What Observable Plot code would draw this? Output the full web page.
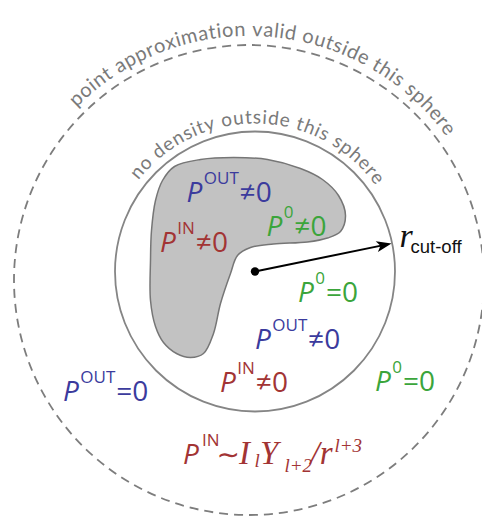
<!DOCTYPE html>
<html><head><meta charset="utf-8">
<script src="https://cdn.jsdelivr.net/npm/d3@7"></script>
<script src="https://cdn.jsdelivr.net/npm/@observablehq/plot@0.6"></script>
<style>html,body{margin:0;padding:0;background:#fff} svg{display:block}</style>
</head><body><div id="chart"></div>
<script>
// ---------- diagram data ----------
const circleCX = [254.5, 248.5];
const circleCY = [271, 279.5];
const circleR = [140, 235];
const circleDashed = [false, true];

// outline of the density region (gray blob)
const blobX = [150, 151, 155, 162, 174, 200, 233, 267, 300, 322, 338, 345, 340, 327, 307, 273, 250, 237, 230, 220, 213, 203, 190, 176, 163, 155, 150];
const blobY = [260, 230, 200, 180, 166, 159, 157, 159, 168, 179, 195, 215, 231, 237.5, 241.5, 243.5, 247, 255, 273, 303, 333, 353, 357, 353, 342, 326, 300];

// radius arrow (center -> sphere)
const arrowFrom = [254.5, 271];
const arrowTo = [391, 243];

// curved labels
const arcLabels = ["point approximation valid outside this sphere", "no density outside this sphere"];
const arcCX = [248.5, 254.5];
const arcCY = [279.5, 271];
const arcRadius = [244, 148];
const arcStartDeg = [-135, -142];
const arcEndDeg = [-36, -35.5];
const arcFontSize = [20, 19];

// P labels
const symSup = ["OUT", "IN", "0", "0", "OUT", "IN", "OUT", "0"];
const symRel = ["≠0", "≠0", "≠0", "=0", "≠0", "≠0", "=0", "=0"];
const symKind = ["out", "in", "zero", "zero", "out", "in", "out", "zero"];
const symX = [186, 159.5, 266, 297.5, 254.5, 219.5, 62.5, 374.5];
const symY = [201.7, 251.7, 235, 301.7, 348.3, 391.7, 400, 390];

// formula P^IN ~ I_l Y_{l+2} / r^{l+3}
const formulaText = ["P", "IN", "∼", "I", "l", "Y", "l+2", "/r", "l+3"];
const formulaX = [182.5, 201.5, 216, 238.5, 254, 259.5, 284, 310, 334];
const formulaY = [463, 445, 463, 463, 466, 463, 471.5, 463, 451];
const formulaStyle = ["sansP", "sup", "tilde", "serif", "sub", "serif", "sub", "serif", "sub"];

// r_cut-off
const rLabelText = ["r", "cut-off"];
const rLabelX = [399, 410];
const rLabelY = [246.7, 252.7];

// ---------- styles ----------
const colors = {out: "#3b3b9d", in: "#a23434", zero: "#3ba53b"};
const gray = "#7a7a7a";
const sansFamily = "'Open Sans', 'Noto Sans', sans-serif";
const arcFamily = "Lato, 'Open Sans', sans-serif";
const serifFamily = "'Liberation Serif', 'DejaVu Serif', serif";

const ctx = document.createElement("canvas").getContext("2d");
function measure(text, font) { ctx.font = font; return ctx.measureText(text).width; }

// circles
const circles = circleCX.map((x, i) => ({x, y: circleCY[i], r: circleR[i], dashed: circleDashed[i]}));
const blob = blobX.map((x, i) => ({x, y: blobY[i]}));

// arrow geometry (derived from the arrow endpoints)
const dx = arrowTo[0] - arrowFrom[0], dy = arrowTo[1] - arrowFrom[1];
const len = Math.hypot(dx, dy), ux = dx / len, uy = dy / len, nx = -uy, ny = ux;
const headL = 15, headW = 5.5;
const shaft = [{x1: arrowFrom[0], y1: arrowFrom[1], x2: arrowTo[0] - ux * headL * 0.7, y2: arrowTo[1] - uy * headL * 0.7}];
const head = [
  {x: arrowTo[0], y: arrowTo[1]},
  {x: arrowTo[0] - ux * headL + nx * headW, y: arrowTo[1] - uy * headL + ny * headW},
  {x: arrowTo[0] - ux * headL * 0.75, y: arrowTo[1] - uy * headL * 0.75},
  {x: arrowTo[0] - ux * headL - nx * headW, y: arrowTo[1] - uy * headL - ny * headW}
];

// per-character positions along arcs
const arcChars = [];
arcLabels.forEach((s, k) => {
  const font = `${arcFontSize[k]}px ${arcFamily}`;
  const chars = Array.from(s);
  const ws = chars.map(c => measure(c, font));
  const total = d3.sum(ws);
  const r = arcRadius[k];
  const a0 = arcStartDeg[k] * Math.PI / 180, a1 = arcEndDeg[k] * Math.PI / 180;
  const extra = (r * (a1 - a0) - total) / (chars.length - 1);
  let s0 = 0;
  chars.forEach((c, i) => {
    const a = a0 + (s0 + ws[i] / 2) / r;
    arcChars.push({x: arcCX[k] + r * Math.cos(a), y: arcCY[k] + r * Math.sin(a), rotate: a * 180 / Math.PI + 90, ch: c, size: arcFontSize[k]});
    s0 += ws[i] + extra;
  });
});

// P label segments
const segP = [], segSup = [], segRel = [];
symSup.forEach((sup, i) => {
  const color = colors[symKind[i]];
  const x0 = symX[i], y0 = symY[i];
  const wP = measure("P", `italic 28px ${sansFamily}`);
  const xs = x0 + wP + 1.5;
  const wS = measure(sup, `17px ${sansFamily}`);
  segP.push({x: x0, y: y0, t: "P", color});
  segSup.push({x: xs, y: y0 - 18, t: sup, color});
  segRel.push({x: xs + wS + 1, y: y0, t: symRel[i], color});
});

const formula = formulaText.map((t, i) => ({t, x: formulaX[i], y: formulaY[i], s: formulaStyle[i]}));
const fOf = s => formula.filter(d => d.s === s);

const textBase = {x: "x", y: "y", text: "t", textAnchor: "start", lineAnchor: "bottom"};

const plot = Plot.plot({
  width: 482, height: 519, margin: 0,
  x: {domain: [0, 482], range: [0, 482], axis: null},
  y: {domain: [0, 519], range: [0, 519], axis: null},
  r: {type: "identity"},
  color: {type: "identity"},
  style: {background: "#fff", overflow: "visible"},
  marks: [
    Plot.dot(circles.filter(d => d.dashed), {x: "x", y: "y", r: "r", fill: "none", stroke: "#7d7d7d", strokeWidth: 1.8, strokeDasharray: "9,6"}),
    Plot.dot(circles.filter(d => !d.dashed), {x: "x", y: "y", r: "r", fill: "none", stroke: "#858585", strokeWidth: 1.8}),
    Plot.line(blob, {x: "x", y: "y", curve: "catmull-rom-closed", fill: "#c2c2c2", stroke: "#767676", strokeWidth: 1.5}),
    Plot.link(shaft, {x1: "x1", y1: "y1", x2: "x2", y2: "y2", stroke: "#000", strokeWidth: 2}),
    Plot.line(head, {x: "x", y: "y", curve: "linear-closed", fill: "#000", stroke: "none"}),
    Plot.dot([{x: arrowFrom[0], y: arrowFrom[1]}], {x: "x", y: "y", r: 4.2, fill: "#000"}),
    // curved grey labels
    Plot.text(arcChars, {x: "x", y: "y", text: "ch", rotate: "rotate", fontSize: "size", textAnchor: "middle", lineAnchor: "bottom", fill: gray, fontFamily: arcFamily}),
    // P labels
    Plot.text(segP, {...textBase, fill: "color", fontSize: 28, fontStyle: "italic", fontFamily: sansFamily}),
    Plot.text(segSup, {...textBase, fill: "color", fontSize: 17, fontFamily: sansFamily}),
    Plot.text(segRel, {...textBase, fill: "color", fontSize: 28, fontFamily: sansFamily}),
    // formula
    Plot.text(fOf("sansP"), {...textBase, fill: colors.in, fontSize: 28, fontStyle: "italic", fontFamily: sansFamily}),
    Plot.text(fOf("sup"), {...textBase, fill: colors.in, fontSize: 17, fontFamily: sansFamily}),
    Plot.text(fOf("tilde"), {...textBase, fill: colors.in, fontSize: 28, fontFamily: "'DejaVu Sans', sans-serif"}),
    Plot.text(fOf("serif"), {...textBase, fill: colors.in, fontSize: 33, fontStyle: "italic", fontFamily: serifFamily}),
    Plot.text(fOf("sub"), {...textBase, fill: colors.in, fontSize: 19, fontStyle: "italic", fontFamily: serifFamily}),
    // r cut-off
    Plot.text([{t: rLabelText[0], x: rLabelX[0], y: rLabelY[0]}], {...textBase, fill: "#111", fontSize: 34, fontStyle: "italic", fontFamily: serifFamily}),
    Plot.text([{t: rLabelText[1], x: rLabelX[1], y: rLabelY[1]}], {...textBase, fill: "#111", fontSize: 18.5, fontFamily: "'Liberation Sans', Arial, sans-serif"})
  ]
});
document.getElementById("chart").appendChild(plot);
</script>
</body></html>
